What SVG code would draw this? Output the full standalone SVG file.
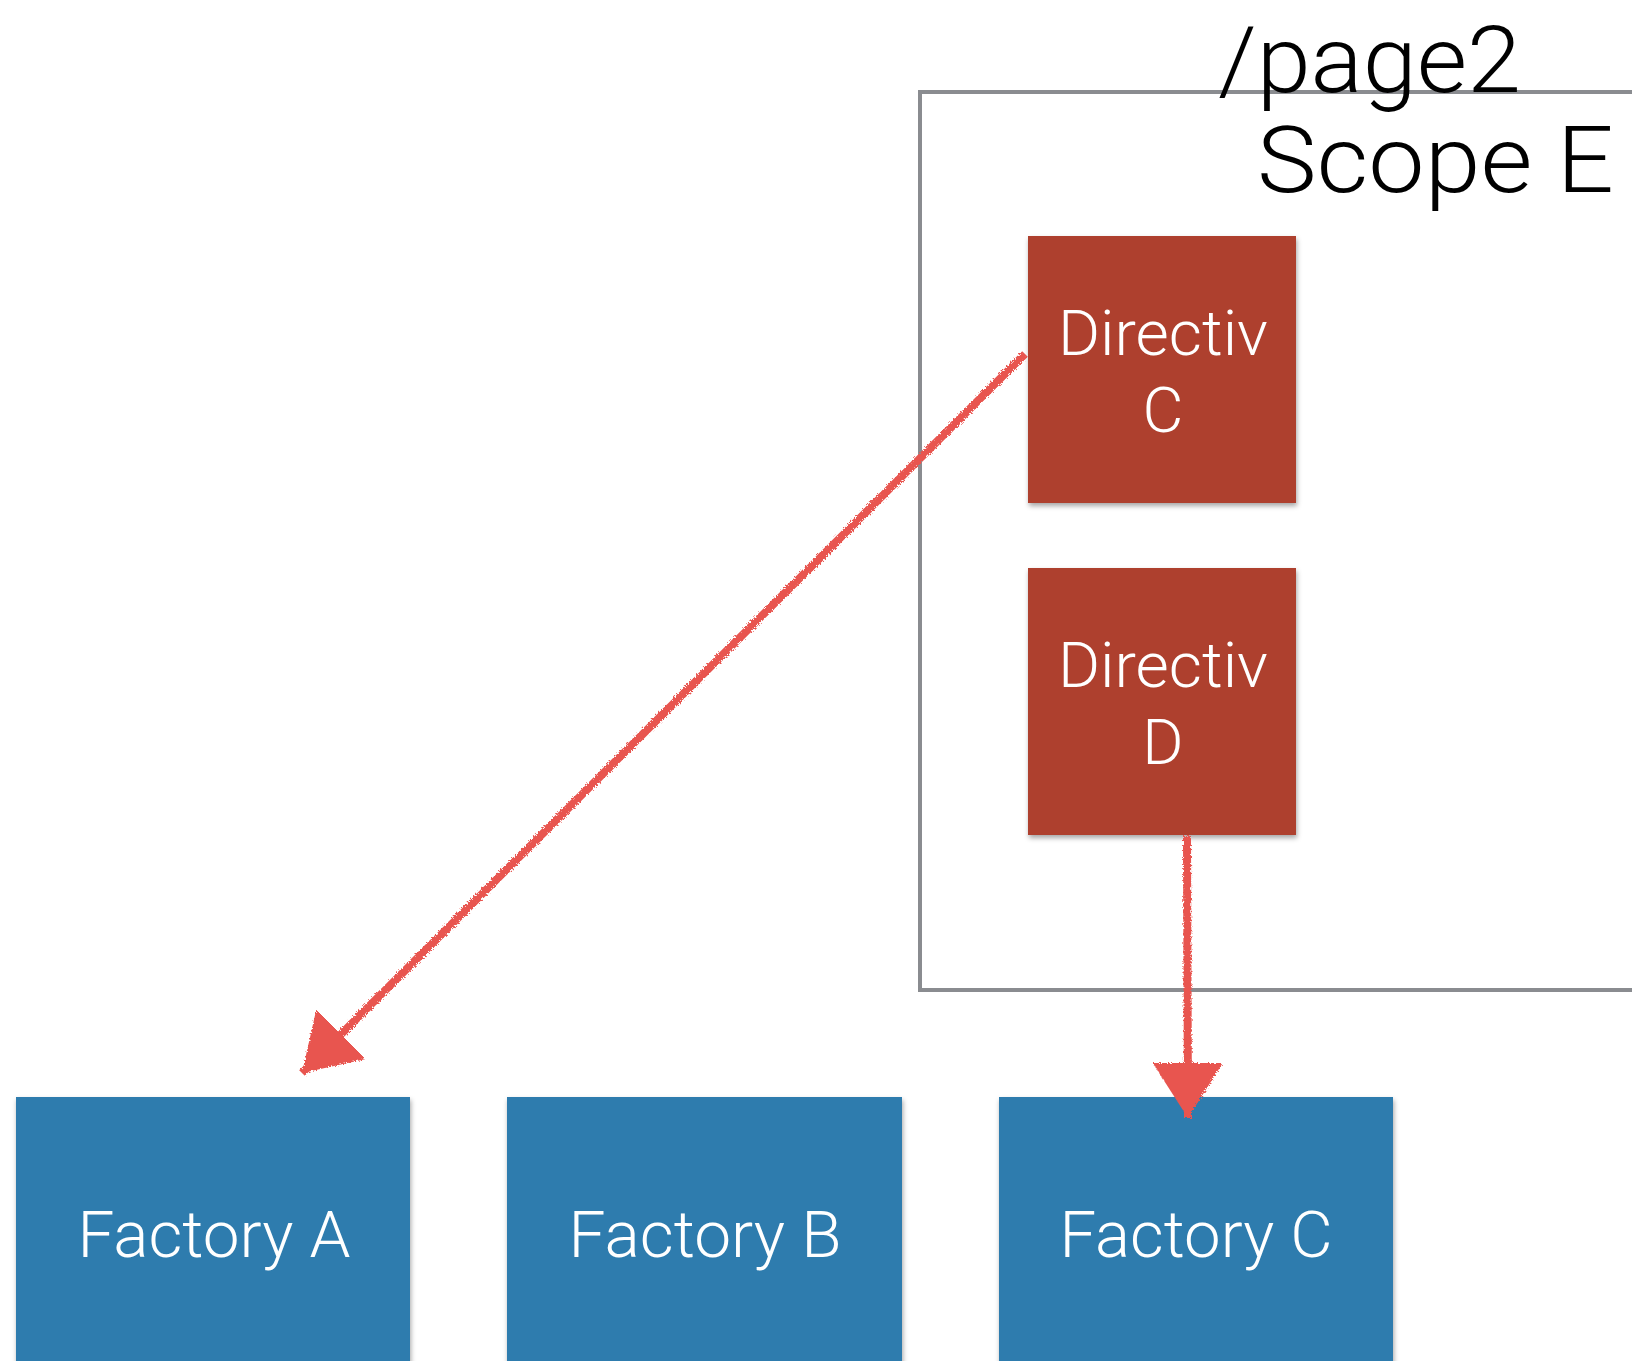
<svg xmlns="http://www.w3.org/2000/svg" width="1632" height="1361" viewBox="0 0 1632 1361">
<defs>
<filter id="shadow" x="-10%" y="-10%" width="120%" height="120%">
<feDropShadow dx="1" dy="3" stdDeviation="2.5" flood-color="#000" flood-opacity="0.35"/>
</filter>
<filter id="rough" x="-5%" y="-5%" width="110%" height="110%">
<feTurbulence type="fractalNoise" baseFrequency="0.6" numOctaves="2" seed="3" result="n"/>
<feDisplacementMap in="SourceGraphic" in2="n" scale="4"/>
</filter>
<marker id="head" viewBox="0 0 55 70" refX="55" refY="35" markerWidth="55" markerHeight="70" markerUnits="userSpaceOnUse" orient="auto">
<path d="M0,0 L55,35 L0,70 Z" fill="#e8544f"/>
</marker>
</defs>
<style>
.lbl{font-family:"Roboto","Liberation Sans",sans-serif;font-weight:300;fill:#ffffff;text-anchor:middle}
.title{font-family:"Roboto","Liberation Sans",sans-serif;font-weight:300;fill:#000000;font-size:92px}
.dir{fill:#ae402e;filter:url(#shadow)}
.fac{fill:#2e7cae;filter:url(#shadow)}
.conn{stroke:#e8544f;stroke-width:8;fill:none;marker-end:url(#head)}
</style>
<rect width="1632" height="1361" fill="#ffffff"/>
<g id="scopeE">
<rect x="920" y="92" width="760" height="898" fill="none" stroke="#8a8c90" stroke-width="4"/>
<text class="title" x="1218" y="92" textLength="303" lengthAdjust="spacingAndGlyphs">/page2</text>
<text class="title" x="1257" y="192" textLength="357" lengthAdjust="spacingAndGlyphs">Scope E</text>
</g>
<g id="directivC">
<rect class="dir" x="1028" y="236" width="268" height="267"/>
<text class="lbl" x="1163" y="355" font-size="63" textLength="210" lengthAdjust="spacingAndGlyphs">Directiv</text>
<text class="lbl" x="1163" y="432" font-size="63">C</text>
</g>
<g id="directivD">
<rect class="dir" x="1028" y="568" width="268" height="267"/>
<text class="lbl" x="1163" y="687" font-size="63" textLength="210" lengthAdjust="spacingAndGlyphs">Directiv</text>
<text class="lbl" x="1163" y="764" font-size="63">D</text>
</g>
<g id="factoryA">
<rect class="fac" x="16" y="1097" width="394" height="280"/>
<text class="lbl" x="214" y="1257" font-size="64" textLength="273" lengthAdjust="spacingAndGlyphs">Factory A</text>
</g>
<g id="factoryB">
<rect class="fac" x="507" y="1097" width="395" height="280"/>
<text class="lbl" x="705" y="1257" font-size="64" textLength="273" lengthAdjust="spacingAndGlyphs">Factory B</text>
</g>
<g id="factoryC">
<rect class="fac" x="999" y="1097" width="394" height="280"/>
<text class="lbl" x="1196" y="1257" font-size="64" textLength="273" lengthAdjust="spacingAndGlyphs">Factory C</text>
</g>
<g id="connectors" filter="url(#rough)">
<path class="conn" d="M1025,354 L302,1073"/>
<path class="conn" d="M1187,836 L1188,1118"/>
</g>
</svg>
